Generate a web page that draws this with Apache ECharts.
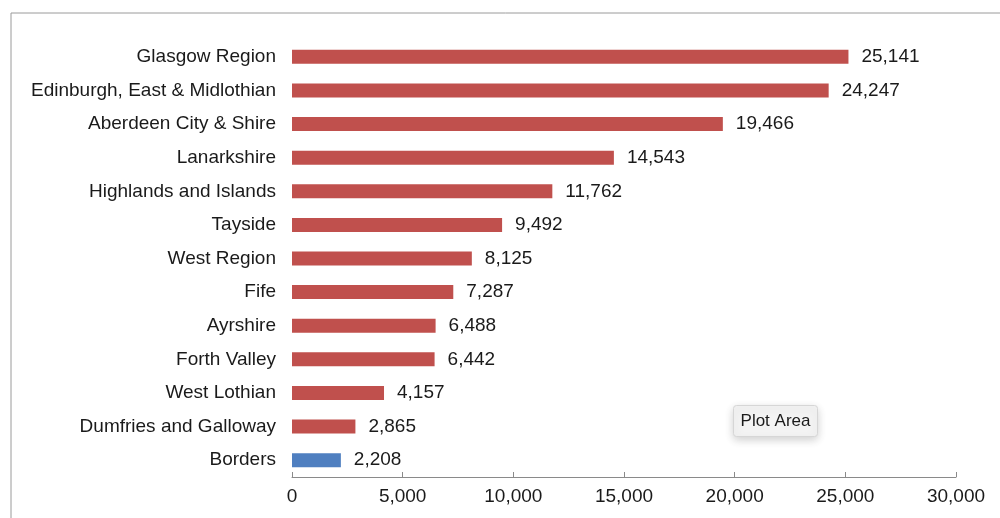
<!DOCTYPE html>
<html>
<head>
<meta charset="utf-8">
<script src="https://cdn.jsdelivr.net/npm/echarts@6/dist/echarts.min.js"></script>
<style>
  html, body { margin: 0; padding: 0; background: #fff; }
  #main { width: 1000px; height: 518px; }
</style>
</head>
<body>
<div id="main"></div>
<script>
// regions, top to bottom as shown
var regions = ['Glasgow Region', 'Edinburgh, East & Midlothian', 'Aberdeen City & Shire',
  'Lanarkshire', 'Highlands and Islands', 'Tayside', 'West Region', 'Fife', 'Ayrshire',
  'Forth Valley', 'West Lothian', 'Dumfries and Galloway', 'Borders'];
var counts = [25141, 24247, 19466, 14543, 11762, 9492, 8125, 7287, 6488, 6442, 4157, 2865, 2208];
var highlighted = 'Borders';
var xTicks = [0, 5000, 10000, 15000, 20000, 25000, 30000];

var myChart = echarts.init(document.getElementById('main'));

var fmt = function (v) { return v.toLocaleString('en-US'); };
var font = 'Liberation Sans, Arial, sans-serif';

var option = {
  backgroundColor: '#fff',
  animation: false,
  textStyle: { fontFamily: font },
  grid: { left: 292, right: 44, top: 40, bottom: 41 },
  xAxis: {
    type: 'value',
    min: xTicks[0],
    max: xTicks[xTicks.length - 1],
    interval: xTicks[1] - xTicks[0],
    axisLine: { show: true, lineStyle: { color: '#8a8a8a', width: 1 } },
    axisTick: { show: true, inside: true, length: 5, lineStyle: { color: '#8a8a8a' } },
    splitLine: { show: false },
    axisLabel: { color: '#1a1a1a', fontSize: 19, margin: 10, formatter: fmt }
  },
  yAxis: {
    type: 'category',
    inverse: true,
    data: regions,
    axisLine: { show: false },
    axisTick: { show: false },
    axisLabel: { color: '#1a1a1a', fontSize: 19, margin: 16 }
  },
  series: [{
    type: 'bar',
    barWidth: 14,
    data: counts.map(function (v, i) {
      return {
        value: v,
        itemStyle: { color: regions[i] === highlighted ? '#4f7fc0' : '#c0504d' }
      };
    }),
    label: {
      show: true,
      position: 'right',
      distance: 13,
      color: '#1a1a1a',
      fontSize: 19,
      formatter: function (p) { return fmt(p.value); }
    }
  }],
  graphic: [
    // frame lines (top and left)
    { type: 'line', shape: { x1: 11, y1: 13, x2: 1000, y2: 13 }, style: { stroke: '#9a9a9a', lineWidth: 1 } },
    { type: 'line', shape: { x1: 11, y1: 13, x2: 11, y2: 518 }, style: { stroke: '#9a9a9a', lineWidth: 1 } },
    // "Plot Area" hover tip
    {
      type: 'group', left: 733, top: 405,
      children: [
        { type: 'rect', shape: { x: 0, y: 0, width: 84, height: 31, r: 3 },
          style: { fill: '#f3f3f3', stroke: '#d6d6d6', lineWidth: 1,
                   shadowBlur: 8, shadowOffsetY: 3, shadowColor: 'rgba(0,0,0,0.18)' } },
        { type: 'text', x: 42, y: 15.5,
          style: { text: 'Plot Area', fill: '#1a1a1a', fontSize: 17,
                   fontFamily: font, align: 'center', verticalAlign: 'middle' } }
      ]
    }
  ]
};

myChart.setOption(option);
</script>
</body>
</html>
